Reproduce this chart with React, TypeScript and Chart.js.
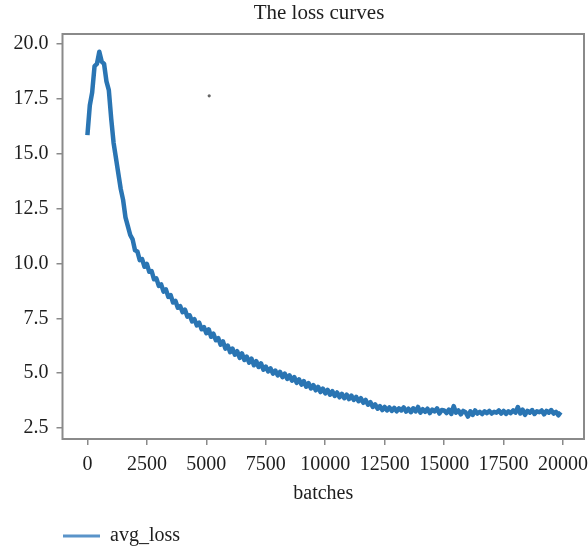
import React, { useEffect, useRef } from "react";
import { Chart, registerables } from "chart.js";

Chart.register(...registerables);

const TITLE = "The loss curves";
const X_TITLE = "batches";
const SERIES_NAME = "avg_loss";
const BATCH_STEP = 100;

// avg_loss read every 100 batches (0 .. 19900)
const lossA = [15.85, 17.2, 17.8, 19.0, 19.1, 19.65, 19.2, 19.1, 18.3, 17.9, 16.6, 15.5, 14.8, 14.1, 13.4, 12.9, 12.1, 11.7, 11.3, 11.1, 10.6, 10.55, 10.15, 10.2, 9.85];
const lossB = [9.98, 9.62, 9.65, 9.28, 9.32, 8.98, 9.05, 8.72, 8.82, 8.48, 8.56, 8.22, 8.3, 7.98, 8.06, 7.78, 7.9, 7.58, 7.64, 7.36, 7.46, 7.18, 7.3, 7.0, 7.1];
const lossC = [6.82, 7.0, 6.66, 6.8, 6.5, 6.6, 6.3, 6.45, 6.12, 6.26, 5.96, 6.12, 5.84, 6.0, 5.7, 5.9, 5.6, 5.76, 5.48, 5.66, 5.36, 5.55, 5.28, 5.45, 5.16];
const lossD = [5.3, 5.08, 5.22, 4.98, 5.12, 4.9, 5.06, 4.82, 4.98, 4.74, 4.9, 4.66, 4.82, 4.56, 4.72, 4.48, 4.64, 4.38, 4.55, 4.3, 4.46, 4.22, 4.38, 4.14, 4.3];
const lossE = [4.08, 4.24, 4.02, 4.18, 3.96, 4.12, 3.9, 4.06, 3.86, 4.02, 3.82, 3.98, 3.78, 3.92, 3.72, 3.86, 3.65, 3.78, 3.56, 3.68, 3.46, 3.58, 3.38, 3.5, 3.32];
const lossF = [3.46, 3.3, 3.44, 3.28, 3.42, 3.26, 3.4, 3.3, 3.44, 3.25, 3.38, 3.22, 3.4, 3.26, 3.46, 3.2, 3.36, 3.24, 3.38, 3.18, 3.34, 3.26, 3.4, 3.16, 3.32];
const lossG = [3.3, 3.18, 3.34, 3.14, 3.5, 3.2, 3.3, 3.12, 3.28, 3.22, 3.02, 3.26, 3.1, 3.3, 3.16, 3.24, 3.14, 3.26, 3.18, 3.28, 3.16, 3.24, 3.2, 3.3, 3.16];
const lossH = [3.28, 3.14, 3.26, 3.18, 3.3, 3.2, 3.46, 3.16, 3.34, 3.1, 3.28, 3.2, 3.32, 3.14, 3.26, 3.22, 3.3, 3.12, 3.28, 3.2, 3.32, 3.16, 3.24, 3.08, 3.22];

// stray point visible in the plot
const strayPoint = { x: 5120, y: 17.64 };

const xTickValues = [0, 2500, 5000, 7500, 10000, 12500, 15000, 17500, 20000];
const yTickValues = [2.5, 5.0, 7.5, 10.0, 12.5, 15.0, 17.5, 20.0];

const FONT = "'Liberation Serif', 'Times New Roman', serif";
const TEXT = "#1e1e1e";
const AXIS = "#8a8a8a";
const LINE = "#2a75b3";
const LEGEND_LINE = "#5a94c9";

const frame = {
  id: "frame",
  afterDatasetsDraw(chart: any) {
    const { ctx, chartArea } = chart;
    const { left, top, right, bottom } = chartArea;
    ctx.save();
    ctx.strokeStyle = AXIS;
    ctx.lineWidth = 2;
    ctx.strokeRect(left, top, right - left, bottom - top);
    ctx.restore();
  },
};

const layoutTweaks = {
  id: "layoutTweaks",
  afterLayout(chart: any) {
    const l = chart.legend;
    if (l) {
      l.top += 6;
      l.bottom += 6;
    }
    const y = chart.scales.y;
    if (y) {
      y.left = 0;
      y.width = y.right;
    }
  },
};

export default function App() {
  const ref = useRef<HTMLCanvasElement | null>(null);

  useEffect(() => {
    if (!ref.current) return;
    const loss = [...lossA, ...lossB, ...lossC, ...lossD, ...lossE, ...lossF, ...lossG, ...lossH];
    const points = loss.map((v, i) => ({ x: i * BATCH_STEP, y: v }));

    const chart = new Chart(ref.current, {
      type: "line",
      data: {
        datasets: [
          {
            label: SERIES_NAME,
            data: points,
            borderColor: LINE,
            backgroundColor: LEGEND_LINE,
            borderWidth: 4.5,
            pointRadius: 0,
            tension: 0,
            borderJoinStyle: "round",
          },
          {
            label: "stray",
            data: [strayPoint],
            showLine: false,
            pointRadius: 1.6,
            pointBackgroundColor: "#666",
            pointBorderWidth: 0,
            borderColor: "#666",
            backgroundColor: "#666",
          },
        ],
      },
      options: {
        animation: false,
        responsive: false,
        devicePixelRatio: 1,
        layout: { padding: { left: 53, right: 3, top: 0, bottom: 0 } },
        plugins: {
          title: {
            display: true,
            text: TITLE,
            color: TEXT,
            font: { family: FONT, size: 21, weight: "normal" },
            padding: { top: 1, bottom: 7.8 },
          },
          legend: {
            display: true,
            position: "bottom",
            align: "start",
            labels: {
              color: TEXT,
              font: { family: FONT, size: 20 },
              boxWidth: 37,
              boxHeight: 3,
              padding: 10,
              generateLabels: () => [
                {
                  text: SERIES_NAME,
                  fillStyle: LEGEND_LINE,
                  strokeStyle: LEGEND_LINE,
                  lineWidth: 0,
                  hidden: false,
                  datasetIndex: 0,
                  fontColor: TEXT,
                },
              ],
            },
          },
          tooltip: { enabled: false },
        },
        scales: {
          x: {
            type: "linear",
            min: -1048,
            max: 20880,
            afterBuildTicks: (s: any) => {
              s.ticks = xTickValues.map((v) => ({ value: v }));
            },
            afterFit: (s: any) => {
              s.height = 71;
              s.paddingLeft = 0;
              s.paddingRight = 0;
            },
            ticks: {
              color: TEXT,
              font: { family: FONT, size: 20 },
              padding: 8,
              maxRotation: 0,
              autoSkip: false,
              callback: (v: any) => String(v),
            },
            grid: {
              display: true,
              drawOnChartArea: false,
              drawTicks: true,
              tickLength: 6,
              color: AXIS,
              lineWidth: 1.5,
            },
            border: { display: false },
            title: {
              display: true,
              text: X_TITLE,
              color: TEXT,
              font: { family: FONT, size: 20 },
              padding: { top: 0, bottom: 4 },
            },
          },
          y: {
            type: "linear",
            min: 2.0,
            max: 20.46,
            afterBuildTicks: (s: any) => {
              s.ticks = yTickValues.map((v) => ({ value: v }));
            },
            afterFit: (s: any) => {
              s.width = 9.5;
            },
            ticks: {
              color: TEXT,
              font: { family: FONT, size: 20 },
              padding: 8,
              autoSkip: false,
              callback: (v: any) => Number(v).toFixed(1),
            },
            grid: {
              display: true,
              drawOnChartArea: false,
              drawTicks: true,
              tickLength: 6,
              color: AXIS,
              lineWidth: 1.5,
            },
            border: { display: false },
          },
        },
      },
      plugins: [frame, layoutTweaks],
    });
    return () => chart.destroy();
  }, []);

  return (
    <div style={{ position: "fixed", left: 0, top: 0, width: 588, height: 550, background: "#fff" }}>
      <canvas ref={ref} width={588} height={550} style={{ display: "block", width: 588, height: 550 }} />
    </div>
  );
}
